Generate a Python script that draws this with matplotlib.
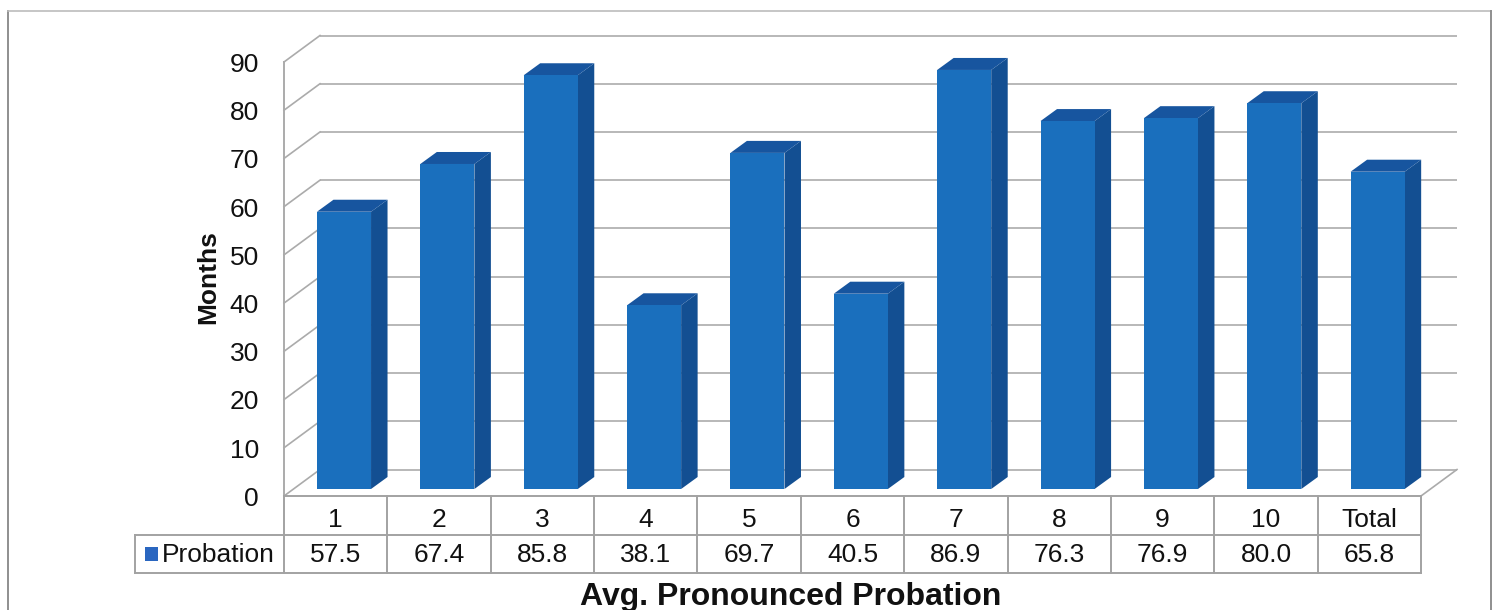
import matplotlib
matplotlib.use('Agg')
import matplotlib.pyplot as plt
from matplotlib.patches import Rectangle

plt.rcParams['font.family'] = ['Liberation Sans', 'DejaVu Sans']

categories = ['1', '2', '3', '4', '5', '6', '7', '8', '9', '10', 'Total']
probation = [57.5, 67.4, 85.8, 38.1, 69.7, 40.5, 86.9, 76.3, 76.9, 80.0, 65.8]
yticks = [0, 10, 20, 30, 40, 50, 60, 70, 80, 90]

W, H = 1496, 610
grid_color = '#ababab'
table_color = '#a2a2a2'
text_color = '#111111'
front_color = '#1a6fbd'
side_color = '#134f92'
top_color = '#17559f'

fig = plt.figure(figsize=(W / 100, H / 100), dpi=100, facecolor='white')

# axes is the front plane of the 3d box, everything else hangs off its data units
ax = fig.add_axes([284 / W, 1 - 496 / H, (1421 - 284) / W, (496 - 62) / H])
ax.set_xlim(0, len(categories))
ax.set_ylim(0, 90)
ax.axis('off')

n = len(categories)
depth_x = 36 / ((1421 - 284) / n)
depth_y = 26.5 / ((496 - 62) / 90)
row_h = 38.5 / ((496 - 62) / 90)
px_x = n / (1421 - 284)

# walls
for t in yticks:
    ax.plot([0, depth_x], [t, t + depth_y], color=grid_color, lw=1.2, clip_on=False, zorder=1)
    ax.plot([depth_x, n + depth_x], [t + depth_y, t + depth_y], color=grid_color, lw=1.2,
            solid_capstyle='butt', clip_on=False, zorder=1)
    ax.text(-25 * px_x, t - 0.6, str(t), ha='right', va='center', fontsize=19, color=text_color)
ax.plot([0, 0], [0, 90], color=grid_color, lw=1.4, clip_on=False, zorder=1)
ax.plot([n, n + depth_x], [0, depth_y], color=grid_color, lw=1.2, clip_on=False, zorder=1)

# bars
bar_left = 0.319
bar_w = 0.523
bar_base = 1.45
bar_dx = 16.5 * px_x
bar_dy = 12 / ((496 - 62) / 90)
for i, v in enumerate(probation):
    x0 = i + bar_left
    x1 = x0 + bar_w
    y0 = bar_base
    y1 = bar_base + v
    ax.fill([x1, x1 + bar_dx, x1 + bar_dx, x1], [y0, y0 + bar_dy, y1 + bar_dy, y1],
            color=side_color, lw=0, clip_on=False, zorder=3)
    ax.fill([x0, x0 + bar_dx, x1 + bar_dx, x1], [y1, y1 + bar_dy, y1 + bar_dy, y1],
            color=top_color, lw=0, clip_on=False, zorder=3)
    ax.add_patch(Rectangle((x0, y0), bar_w, v, facecolor=front_color, lw=0, clip_on=False, zorder=4))

# data table below the plot
legend_left = -(284 - 135) * px_x
ax.plot([0, n], [0, 0], color=table_color, lw=1.4, clip_on=False, zorder=2)
ax.plot([legend_left, n], [-row_h, -row_h], color=table_color, lw=1.4, clip_on=False)
ax.plot([legend_left, n], [-2 * row_h, -2 * row_h], color=table_color, lw=1.4, clip_on=False)
ax.plot([legend_left, legend_left], [-row_h, -2 * row_h], color=table_color, lw=1.4, clip_on=False)
for i in range(n + 1):
    ax.plot([i, i], [0, -2 * row_h], color=table_color, lw=1.4, clip_on=False)
for i, (c, v) in enumerate(zip(categories, probation)):
    ax.text(i + 0.5, -row_h * 0.5 - 0.9, c, ha='center', va='center', fontsize=19, color=text_color)
    ax.text(i + 0.5, -row_h * 1.5 - 0.2, f'{v:.1f}', ha='center', va='center', fontsize=19, color=text_color)
ax.add_patch(Rectangle((legend_left + 10 * px_x, -row_h * 1.5 - 1.4), 13 * px_x, 2.8,
                       facecolor='#2a66c0', lw=0, clip_on=False))
ax.text(-9 * px_x, -row_h * 1.5 - 0.2, 'Probation', ha='right', va='center', fontsize=19, color=text_color)

# axis titles
fig.text(208 / W, 1 - 277 / H, 'Months', rotation=90, ha='center', va='center',
         fontsize=19, fontweight='bold', color=text_color)
fig.text(791 / W, 1 - 597.5 / H, 'Avg. Pronounced Probation', ha='center', va='center',
         fontsize=23, fontweight='bold', color=text_color)

# outer frame of the scanned chart
frame = '#8f8f8f'
fig.add_artist(plt.Line2D([8 / W, 8 / W], [1 - 11 / H, 0], color=frame, lw=1.4))
fig.add_artist(plt.Line2D([8 / W, 1491 / W], [1 - 11 / H, 1 - 11 / H], color='#bcbcbc', lw=1.2))
fig.add_artist(plt.Line2D([1491 / W, 1491 / W], [1 - 11 / H, 0], color=frame, lw=1.4))

fig.savefig('out.png', dpi=100)
